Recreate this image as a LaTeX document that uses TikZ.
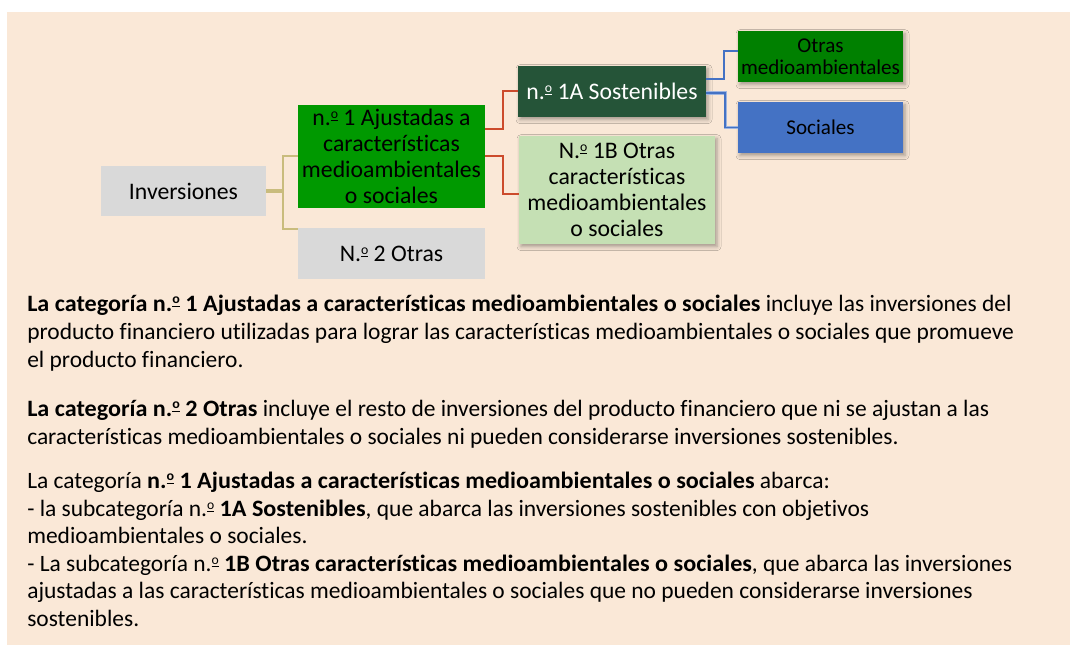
\documentclass[tikz,border=0pt]{standalone}
\usepackage{fontspec}
\setmainfont{Carlito}[Ligatures={NoCommon}, BoldFeatures={FakeStretch=1.03}]
\usetikzlibrary{shadows.blur}
\definecolor{bgc}{HTML}{FAE8D7}
\definecolor{greyc}{HTML}{D9D9D9}
\definecolor{brightgreen}{HTML}{009900}
\definecolor{darkgreen}{HTML}{255438}
\definecolor{lightgreen}{HTML}{C5E0B4}
\definecolor{midgreen}{HTML}{008000}
\definecolor{socblue}{HTML}{4472C4}
\definecolor{redline}{HTML}{CC4B2C}
\definecolor{tanline}{HTML}{C9BC7D}
\definecolor{lightblue}{HTML}{9DB5E0}
\newcommand{\ordm}{\raisebox{0.62ex}{\fontsize{0.58em}{0.6em}\selectfont\underline{o}}}
\tikzset{
  box/.style={draw=none, inner sep=0pt, align=center, text=black,
    font=\fontsize{17.8pt}{19.5pt}\selectfont},
  smallbox/.style={box, font=\fontsize{15.8pt}{16.5pt}\selectfont},
  shad/.style={blur shadow={shadow xshift=1.5pt, shadow yshift=-2pt, shadow blur radius=3pt, shadow opacity=35}},
  tanconn/.style={draw=tanline, line width=1.5pt},
  redconn/.style={draw=redline, line width=1.5pt},
  blueconn/.style={draw=socblue, line width=1.5pt},
  bodyline/.style={anchor=base west, inner sep=0pt, text=black,
    font=\fontsize{17.6pt}{20pt}\selectfont}
}
\begin{document}
\begin{tikzpicture}[x=0.75pt, y=-0.75pt]
\useasboundingbox (0,0) rectangle (1070,645);
\fill[bgc] (7,12) rectangle (1070,645);

% diagram nodes
\node[box, fill=greyc, minimum width=123.75pt, minimum height=37.5pt] (inv) at (183.5,191) {Inversiones};
\node[box, fill=brightgreen, minimum width=140.25pt, minimum height=77.25pt] (n1) at (391.5,156.5) {n.\ordm{} 1 Ajustadas a\\características\\medioambientales\\o sociales};
\node[box, fill=greyc, minimum width=140.25pt, minimum height=38.25pt] (n2) at (391.5,253.5) {N.\ordm{} 2 Otras};
\node[box, shad, fill=darkgreen, text=white, minimum width=141pt, minimum height=38.25pt] (s1a) at (612,91.5) {n.\ordm{} 1A Sostenibles};
\node[box, shad, fill=lightgreen, minimum width=147pt, minimum height=81pt] (s1b) at (617,190) {N.\ordm{} 1B Otras\\características\\medioambientales\\o sociales};
\node[smallbox, shad, fill=midgreen, minimum width=123.75pt, minimum height=38.25pt] (otr) at (820.5,56.5) {Otras\\medioambientales};
\node[smallbox, shad, fill=socblue, minimum width=123.75pt, minimum height=38.25pt] (soc) at (820.5,127.5) {Sociales};

% connectors
\draw[tanconn] ([yshift=1.1pt]inv.east) -- ++(17,0) |- (n1.west);
\draw[tanconn] ([yshift=-1.1pt]inv.east) -- ++(17,0) |- ([yshift=-0.75pt]n2.north west);
\draw[redconn] ([yshift=20.6pt]n1.east) -- ++(18,0) |- (s1a.west);
\draw[redconn] (n1.east) -- ++(18,0) |- ([yshift=-3pt]s1b.west);
\draw[blueconn] ([yshift=9.4pt]s1a.east) -- ++(18,0) |- ([yshift=4.1pt]otr.west);
\draw[draw=lightblue, line width=2.4pt] ([yshift=-1.1pt]s1a.east) -- ++(19,0) |- (soc.west);
\draw[blueconn, line width=1.2pt] ([yshift=-1.1pt]s1a.east) -- ++(19,0) |- (soc.west);

% body text
\node[bodyline] (l1) at (27,311) {\textbf{La categoría n.\ordm{} 1 Ajustadas a características medioambientales o sociales} incluye las inversiones del};
\node[bodyline] (l2) at (27,339) {producto financiero utilizadas para lograr las características medioambientales o sociales que promueve};
\node[bodyline] (l3) at (27,367) {el producto financiero.};
\node[bodyline] (l4) at (27,416) {\textbf{La categoría n.\ordm{} 2 Otras} incluye el resto de inversiones del producto financiero que ni se ajustan a las};
\node[bodyline] (l5) at (27,444) {características medioambientales o sociales ni pueden considerarse inversiones sostenibles.};
\node[bodyline] (l6) at (27,488) {La categoría \textbf{n.\ordm{} 1 Ajustadas a características medioambientales o sociales} abarca:};
\node[bodyline] (l7) at (27,516) {- la subcategoría n.\ordm{} \textbf{1A Sostenibles}, que abarca las inversiones sostenibles con objetivos};
\node[bodyline] (l8) at (27,543) {medioambientales o sociales.};
\node[bodyline] (l9) at (27,571) {- La subcategoría n.\ordm{} \textbf{1B Otras características medioambientales o sociales}, que abarca las inversiones};
\node[bodyline] (l10) at (27,598) {ajustadas a las características medioambientales o sociales que no pueden considerarse inversiones};
\node[bodyline] (l11) at (27,626) {sostenibles.};
\end{tikzpicture}
\end{document}
